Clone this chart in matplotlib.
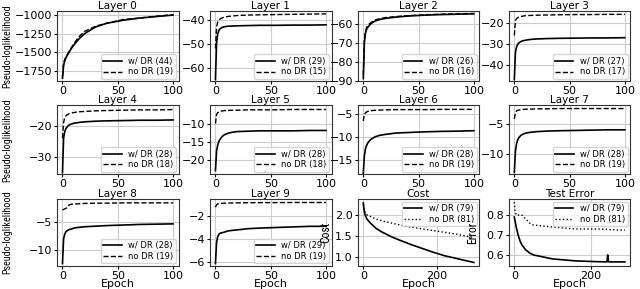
import matplotlib.pyplot as plt
from matplotlib import font_manager

epochs = [0, 1, 2, 3, 4, 6, 8, 11, 15, 20, 30, 40, 55, 70, 85, 100]

layer_dr = [
    [-1850, -1680, -1620, -1580, -1550, -1500, -1450, -1390, -1320, -1250, -1160, -1110, -1070, -1040, -1020, -1000],
    [-65, -50, -46, -44.5, -43.8, -43.2, -42.9, -42.7, -42.6, -42.5, -42.4, -42.3, -42.3, -42.2, -42.2, -42.1],
    [-89, -70, -65, -63, -62, -60.5, -59.5, -58.5, -57.8, -57.2, -56.5, -56, -55.5, -55.2, -55, -54.8],
    [-47, -34, -31.5, -30.3, -29.6, -28.9, -28.5, -28.2, -27.9, -27.7, -27.5, -27.4, -27.3, -27.2, -27.2, -27.1],
    [-35, -24, -22, -21, -20.5, -19.8, -19.5, -19.2, -19, -18.8, -18.6, -18.5, -18.4, -18.3, -18.3, -18.2],
    [-23, -17.5, -16, -15, -14.4, -13.6, -13.1, -12.7, -12.4, -12.2, -12.1, -12.0, -12.0, -12.0, -11.9, -11.9],
    [-18, -14, -12.5, -11.8, -11.3, -10.7, -10.3, -9.9, -9.6, -9.4, -9.1, -9.0, -8.85, -8.75, -8.7, -8.6],
    [-13, -9.5, -8.3, -7.7, -7.3, -6.9, -6.7, -6.5, -6.4, -6.3, -6.2, -6.15, -6.1, -6.05, -6.0, -6.0],
    [-12.3, -8, -7.2, -6.8, -6.6, -6.4, -6.3, -6.1, -6.0, -5.9, -5.8, -5.7, -5.6, -5.5, -5.45, -5.4],
    [-6.1, -4.3, -3.8, -3.6, -3.5, -3.45, -3.4, -3.3, -3.25, -3.2, -3.1, -3.05, -3.0, -2.95, -2.9, -2.9],
]
layer_nodr = [
    [-1830, -1650, -1600, -1570, -1540, -1490, -1440, -1370, -1290, -1220, -1150, -1110, -1060, -1040, -1015, -995],
    [-52, -43, -41, -40.2, -39.7, -39.2, -38.9, -38.6, -38.4, -38.2, -38.0, -37.9, -37.8, -37.7, -37.6, -37.5],
    [-87, -68, -64, -62, -61, -59.8, -59, -58, -57.3, -56.8, -56.2, -55.8, -55.3, -55, -54.8, -54.6],
    [-26, -19, -18, -17.6, -17.3, -17, -16.8, -16.6, -16.5, -16.4, -16.3, -16.2, -16.1, -16.1, -16.0, -16.0],
    [-24, -19, -17.5, -17, -16.6, -16.2, -16, -15.8, -15.6, -15.5, -15.3, -15.2, -15.1, -15.0, -15.0, -14.9],
    [-10, -7.5, -7, -6.8, -6.7, -6.5, -6.4, -6.4, -6.3, -6.3, -6.2, -6.2, -6.2, -6.1, -6.1, -6.1],
    [-6.5, -5, -4.7, -4.5, -4.4, -4.3, -4.2, -4.15, -4.1, -4.05, -4.0, -4.0, -4.0, -3.95, -3.95, -3.95],
    [-4.2, -3.2, -2.9, -2.8, -2.75, -2.7, -2.65, -2.6, -2.6, -2.55, -2.55, -2.5, -2.5, -2.5, -2.5, -2.5],
    [-3.0, -2.9, -2.8, -2.7, -2.6, -2.1, -2.0, -1.95, -1.9, -1.85, -1.8, -1.8, -1.75, -1.75, -1.75, -1.75],
    [-1.25, -1.05, -0.97, -0.95, -0.93, -0.92, -0.91, -0.9, -0.89, -0.88, -0.87, -0.86, -0.86, -0.85, -0.85, -0.85],
]
labels_dr = [44, 29, 26, 27, 28, 28, 28, 28, 28, 29]
labels_nodr = [19, 15, 16, 17, 18, 18, 19, 19, 19, 19]

cost_epochs = [0, 2, 5, 10, 20, 35, 50, 75, 100, 130, 160, 190, 220, 250, 280, 300]
cost_dr = [2.28, 2.12, 2.0, 1.9, 1.8, 1.68, 1.6, 1.49, 1.40, 1.30, 1.21, 1.12, 1.04, 0.98, 0.92, 0.88]
cost_nodr = [2.25, 2.12, 2.05, 2.0, 1.96, 1.9, 1.86, 1.81, 1.76, 1.71, 1.67, 1.63, 1.59, 1.55, 1.5, 1.46]

err_epochs = [0, 2, 5, 10, 15, 20, 30, 40, 50, 75, 100, 130, 160, 190, 220, 243, 245, 247, 270, 290]
err_dr = [0.79, 0.77, 0.74, 0.70, 0.67, 0.65, 0.625, 0.61, 0.60, 0.59, 0.58, 0.575, 0.57, 0.568, 0.566, 0.565, 0.60, 0.565, 0.565, 0.565]
err_nodr = [0.865, 0.82, 0.80, 0.80, 0.80, 0.80, 0.78, 0.76, 0.75, 0.745, 0.74, 0.735, 0.73, 0.73, 0.73, 0.728, 0.728, 0.727, 0.725, 0.725]

ylims = [(-1895, -945), (-65.8, -36.3), (-90.5, -53.3), (-47.9, -14.4), (-35.5, -13.6),
         (-24, -5), (-18.1, -3.1), (-13.3, -2.0), (-12.7, -1.1), (-6.3, -0.56)]
yticks = [[-1750, -1500, -1250, -1000], [-60, -50, -40], [-90, -80, -70, -60], [-40, -30, -20],
          [-30, -20], [-20, -15, -10], [-15, -10, -5], [-10, -5], [-10, -5], [-6, -4, -2]]

# narrow font for the y labels, if one is around
narrow, narrow_size = 'DejaVu Sans', 6
for name, size in [('Liberation Sans Narrow', 7.5), ('Roboto Condensed', 7.5), ('Liberation Sans', 7)]:
    try:
        font_manager.findfont(name, fallback_to_default=False)
        narrow, narrow_size = name, size
        break
    except Exception:
        pass

plt.rcParams['font.size'] = 8
fig = plt.figure(figsize=(6.4, 2.89), dpi=100)

lefts = [0.089, 0.328, 0.559, 0.795]
bottoms = [0.718, 0.397, 0.080]
heights = [0.244, 0.238, 0.231]
w = 0.19
axes = []
for r in range(3):
    for c in range(4):
        axes.append(fig.add_axes([lefts[c], bottoms[r], w, heights[r]]))

def style(ax, title):
    ax.set_title(title, fontsize=7.5, pad=1)
    ax.grid(True, color='#cccccc', linewidth=0.8)
    ax.tick_params(labelsize=8, length=2.5, pad=1)
    for s in ax.spines.values():
        s.set_color('#333333')
        s.set_linewidth(0.8)

leg_kw = dict(fontsize=6, handlelength=2.2, borderpad=0.3, labelspacing=0.2,
              handletextpad=0.8, borderaxespad=0.3)

for i in range(10):
    ax = axes[i]
    ax.plot(epochs, layer_dr[i], color='black', lw=1.2, label='w/ DR (%d)' % labels_dr[i])
    ax.plot(epochs, layer_nodr[i], color='black', lw=1.0, ls='--', label='no DR (%d)' % labels_nodr[i])
    ax.set_ylim(ylims[i])
    ax.set_yticks(yticks[i])
    ax.set_xticks([0, 50, 100])
    style(ax, 'Layer %d' % i)
    ax.legend(loc='lower right', **leg_kw)

ax = axes[10]
ax.plot(cost_epochs, cost_dr, color='black', lw=1.2, label='w/ DR (79)')
ax.plot(cost_epochs, cost_nodr, color='black', lw=1.0, ls=':', label='no DR (81)')
ax.set_ylim(0.8, 2.37)
ax.set_yticks([1.0, 1.5, 2.0])
ax.set_xticks([0, 200])
style(ax, 'Cost')
ax.set_ylabel('Cost', family=narrow, fontsize=narrow_size + 1)
ax.yaxis.set_label_coords(-0.21, 0.5)
ax.legend(loc='upper right', **leg_kw)

ax = axes[11]
ax.plot(err_epochs, err_dr, color='black', lw=1.2, label='w/ DR (79)')
ax.plot(err_epochs, err_nodr, color='black', lw=1.0, ls=':', label='no DR (81)')
ax.set_ylim(0.545, 0.88)
ax.set_yticks([0.6, 0.7, 0.8])
ax.set_xticks([0, 200])
style(ax, 'Test Error')
ax.set_ylabel('Error', family=narrow, fontsize=narrow_size + 1)
ax.yaxis.set_label_coords(-0.24, 0.5)
ax.legend(loc='upper right', **leg_kw)

for r in range(3):
    a = axes[r * 4]
    a.set_ylabel('Pseudo-loglikelihood', family=narrow, fontsize=narrow_size - 0.3)
    a.yaxis.set_label_coords(-0.37, 0.5)

for a in axes[8:]:
    a.set_xlabel('Epoch', fontsize=8, labelpad=-1)

fig.savefig('out.png', dpi=100)
